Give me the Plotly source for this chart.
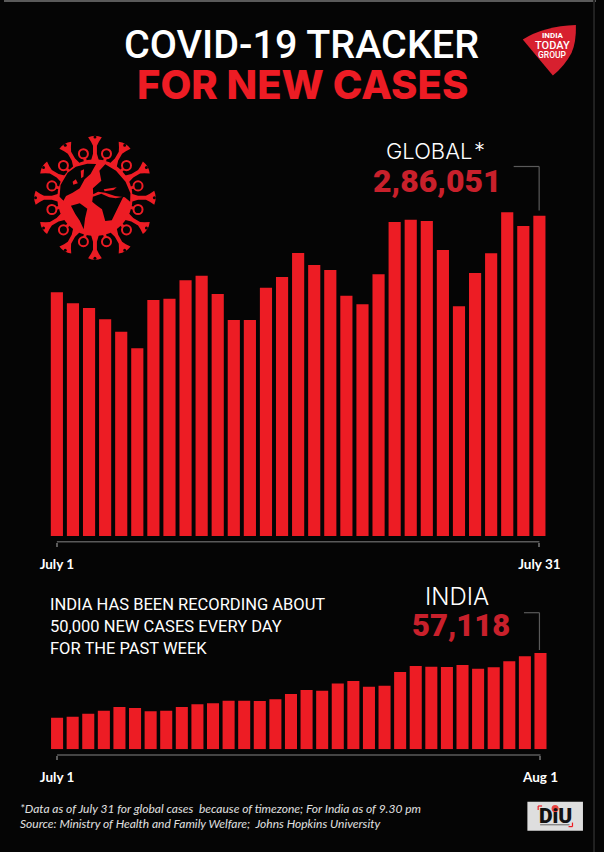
import math
import plotly.graph_objects as go

global_days = list(range(1, 32))
global_cases = [217600, 207800, 203600, 193500, 182400, 167600, 210700, 211900, 228300, 232500,
                216100, 192900, 192900, 221700, 231300, 252700, 242000, 237500, 214600, 206900,
                233700, 280400, 282500, 281300, 255400, 205100, 234900, 252500, 289100, 276800, 286051]
india_days = list(range(1, 33))
india_cases = [18700, 19300, 21100, 22900, 25100, 24500, 22500, 22900, 25100, 26700, 27300,
               28800, 28800, 28600, 29700, 32800, 35200, 34800, 39100, 40500, 37100, 37700,
               45800, 49400, 49000, 48800, 50000, 47800, 48600, 52200, 55200, 57118]
global_ticks = [1, 31]
global_ticktext = ["July 1", "July 31"]
india_ticks = [1, 32]
india_ticktext = ["July 1", "Aug 1"]

W, H = 604, 852
RED = "#ed1c24"
DARKRED = "#c9202b"
GREY = "#5a5a5a"
BG = "#050505"


def ydom(top, bottom):
    return [1 - bottom / H, 1 - top / H]


fig = go.Figure()
fig.add_bar(x=global_days, y=global_cases, width=0.756, marker=dict(color=RED, line=dict(width=0)),
            xaxis="x", yaxis="y", showlegend=False)
fig.add_bar(x=india_days, y=india_cases, width=0.773, marker=dict(color=RED, line=dict(width=0)),
            xaxis="x2", yaxis="y2", showlegend=False)
fig.add_scatter(x=[], y=[], xaxis="x3", yaxis="y3", showlegend=False)

shapes = []


def P(d, fill, line=None, lw=0):
    shapes.append(dict(type="path", path=d, xref="x3", yref="y3", fillcolor=fill,
                       line=dict(color=line or fill, width=lw)))


def L(x0, y0, x1, y1, color=GREY, w=1.2):
    shapes.append(dict(type="line", x0=x0, y0=y0, x1=x1, y1=y1, xref="x3", yref="y3",
                       line=dict(color=color, width=w)))


def C(cx, cy, r, fill, line=None, lw=0):
    shapes.append(dict(type="circle", x0=cx - r, y0=cy - r, x1=cx + r, y1=cy + r, xref="x3", yref="y3",
                       fillcolor=fill, line=dict(color=line or fill, width=lw)))


# page frame
shapes.append(dict(type="rect", x0=0, y0=0, x1=604, y1=2, xref="x3", yref="y3", fillcolor=GREY, line=dict(width=0)))
shapes.append(dict(type="rect", x0=601, y0=0, x1=603, y1=852, xref="x3", yref="y3", fillcolor="#222222", line=dict(width=0)))

# brackets under the bars
for xa, days, yy in (("x", global_ticks, 541.7), ("x2", india_ticks, 755)):
    shapes.append(dict(type="line", x0=days[0], x1=days[1], y0=1 - yy / H, y1=1 - yy / H, xref=xa, yref="paper",
                       line=dict(color=GREY, width=1.5)))

# connectors
L(520, 166.5, 546, 166.5)
L(546, 166.5, 546, 210.5)
L(530.5, 612.7, 546.3, 612.7)
L(546.3, 612.7, 546.3, 650)

# virus icon
CX, CY = 92.8, 197.7


def pt(r, a):
    return CX + r * math.cos(a), CY + r * math.sin(a)


for k in range(12):
    a = math.radians(30 * k)
    n = a + math.pi / 2
    rr = ((34, 5.0), (44, 2.0), (52, 2.0), (56, 4.0), (60.5, 7.0))
    pts = []
    for r, hw in rr:
        x, y = pt(r, a)
        pts.append((x + hw * math.cos(n), y + hw * math.sin(n)))
    tip = pt(63.5, a)
    for r, hw in rr[::-1]:
        x, y = pt(r, a)
        pts.append((x - hw * math.cos(n), y - hw * math.sin(n)))
    P("M" + " L".join(f"{x:.1f},{y:.1f}" for x, y in pts[:5]) +
      f" Q{tip[0]:.1f},{tip[1]:.1f} " + " L".join(f"{x:.1f},{y:.1f}" for x, y in pts[5:]) + " Z", RED)
    cx, cy = pt(60.6, a)
    C(cx, cy, 1.5, BG)
    b = a + math.radians(15)
    x0, y0 = pt(36, b)
    x1, y1 = pt(42, b)
    L(x0, y0, x1, y1, RED, 3)
    rx, ry = pt(45.5, b)
    C(rx, ry, 4.6, BG, RED, 2.0)

C(CX, CY, 38.5, RED)
land = [
    [(110, 140), (113, 105), (135, 68), (160, 50), (195, 41), (222, 42), (205, 72), (187, 88), (172, 115),
     (150, 128), (130, 138), (122, 152)],
    [(232, 62), (250, 43), (283, 62), (312, 95), (327, 130), (326, 155), (310, 142), (280, 138), (250, 128),
     (228, 125), (213, 133), (212, 115), (238, 92)],
    [(212, 140), (238, 131), (262, 142), (282, 145), (305, 140), (290, 170), (270, 211), (250, 213),
     (240, 178), (222, 165), (210, 155)],
    [(145, 167), (172, 160), (195, 176), (188, 205), (184, 238), (172, 212), (158, 192)],
]
for poly in land:
    P("M" + " L".join(f"{x / 3 + 20:.1f},{y / 3 + 150:.1f}" for x, y in poly) + " Z", BG)
for poly in ([(150, 95), (160, 88), (166, 100), (152, 104)], [(175, 62), (185, 58), (183, 80), (176, 85)],
             [(245, 118), (285, 112), (275, 120), (248, 124)]):
    P("M" + " L".join(f"{x / 3 + 20:.1f},{y / 3 + 150:.1f}" for x, y in poly) + " Z", RED)

# India Today badge
P("M529.3,39.5 Q551,26 583.5,25 Q584,42 579,53 Q572,66 560,75.5 Q545,58 529.3,39.5 Z", "#d7202f")

# DIU badge
shapes.append(dict(type="rect", x0=534, y0=801.7, x1=590.7, y1=830.7, xref="x3", yref="y3",
                   fillcolor="#dedede", line=dict(width=0)))
C(562.3, 808.6, 3.6, "#e8423f")
L(545, 806, 549, 806, RED, 1.2)
L(545, 806, 545, 810, RED, 1.2)
L(580, 826.6, 576, 826.6, RED, 1.2)
L(580, 826.6, 580, 822.6, RED, 1.2)
L(547, 824.8, 577, 824.8, "#666666", 1)


def T(x, y, s, size, color="white", font="Roboto", anchor="center", weight=None, italic=False):
    f = dict(family=font, size=size, color=color)
    if weight:
        f["weight"] = weight
    if italic:
        f["style"] = "italic"
    fig.add_annotation(x=x, y=y, xref="x3", yref="y3", text=s, showarrow=False, xanchor=anchor, yanchor="middle",
                       font=f, align="left", borderpad=0)


T(303.5, 44, "COVID-19 TRACKER", 39.5, weight=500)
T(305, 84, "FOR NEW CASES", 40, color=RED, font="Inter", weight=800)
T(433.5, 151, "GLOBAL", 22, font="Inter", weight=300)
T(485.5, 150, "*", 22, font="Inter", weight=300)
T(442, 180.5, "2,86,051", 32, color=DARKRED, weight=900)
T(462.5, 596.5, "INDIA", 24, font="Inter", weight=300)
T(466, 625.5, "57,118", 31, color=DARKRED, weight=900)
T(46, 604.5, "INDIA HAS BEEN RECORDING ABOUT", 16.5, anchor="left")
T(46, 626.5, "50,000 NEW CASES EVERY DAY", 16.5, anchor="left")
T(46, 648.5, "FOR THE PAST WEEK", 16.5, anchor="left")
T(15.5, 808, "*Data as of July 31 for global cases  because of timezone; For India as of 9.30 pm", 12,
  color="#e0e0e0", font="Lato", anchor="left", italic=True)
T(15.5, 823, "Source: Ministry of Health and Family Welfare;  Johns Hopkins University", 12,
  color="#e0e0e0", font="Lato", anchor="left", italic=True)
T(560, 35.5, "INDIA", 8, font="Roboto", weight=700)
T(560, 45, "TODAY", 11, font="Roboto", weight=500)
T(560, 54.5, "GROUP", 8.5, font="Roboto", weight=500)
T(562.5, 816, "DiU", 21, color="#111111", font="Roboto", weight=900)

PLOT_L, PLOT_R = 40, 560
axis_common = dict(showgrid=False, zeroline=False, showline=False, ticks="outside", ticklen=4, tickwidth=1.5,
                   tickcolor=GREY, tickfont=dict(family="Lato", size=13.5, color="white", weight=700),
                   ticklabelstandoff=6, anchor="free", fixedrange=True)
yaxis_common = dict(showgrid=False, zeroline=False, showline=False, showticklabels=False, ticks="", fixedrange=True)

fig.update_layout(
    width=W, height=H, margin=dict(l=0, r=0, t=0, b=0), autosize=False,
    paper_bgcolor=BG, plot_bgcolor="rgba(0,0,0,0)", showlegend=False, barmode="overlay", shapes=shapes,
    xaxis=dict(domain=[PLOT_L / W, PLOT_R / W], tickmode="array", tickvals=global_ticks, ticktext=global_ticktext,
               range=[1 + (PLOT_L - 53.95) / 16.41, 1 + (PLOT_R - 53.95) / 16.41],
               position=1 - 541.7 / H, **axis_common),
    yaxis=dict(domain=ydom(200, 536), range=[0, 336 * 893], anchor="x", **yaxis_common),
    xaxis2=dict(domain=[PLOT_L / W, PLOT_R / W], tickmode="array", tickvals=india_ticks, ticktext=india_ticktext,
                range=[1 + (PLOT_L - 54.15) / 15.91, 1 + (PLOT_R - 54.15) / 15.91],
                position=1 - 755 / H, **axis_common),
    yaxis2=dict(domain=ydom(640, 749.3), range=[0, 109.3 * 593.1], anchor="x2", **yaxis_common),
    xaxis3=dict(domain=[0, 1], range=[0, W], visible=False, anchor="y3", fixedrange=True),
    yaxis3=dict(domain=[0, 1], range=[H, 0], visible=False, anchor="x3", fixedrange=True),
)
fig.write_html("out.html", config=dict(displayModeBar=False),
               post_script="document.body.style.margin='0';document.body.style.overflow='hidden';"
                           "document.documentElement.style.overflow='hidden';"
                           "Plotly.relayout(document.querySelector('.plotly-graph-div'),{width:604,height:852});")
